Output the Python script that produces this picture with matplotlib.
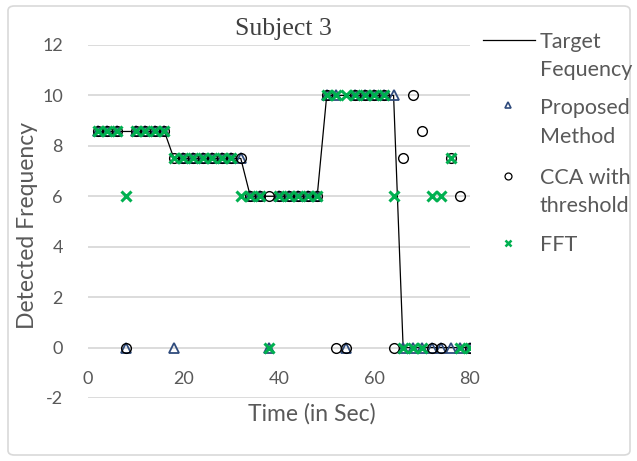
import matplotlib.pyplot as plt
from matplotlib.lines import Line2D
from matplotlib.patches import FancyBboxPatch

# Data
time = [2, 4, 6, 8, 10, 12, 14, 16,
        18, 20, 22, 24, 26, 28, 30, 32,
        34, 36, 38, 40, 42, 44, 46, 48,
        50, 52, 54, 56, 58, 60, 62, 64,
        66, 68, 70, 72, 74, 76, 78, 80]
target = [8.57, 8.57, 8.57, 8.57, 8.57, 8.57, 8.57, 8.57,
          7.5, 7.5, 7.5, 7.5, 7.5, 7.5, 7.5, 7.5,
          6, 6, 6, 6, 6, 6, 6, 6,
          10, 10, 10, 10, 10, 10, 10, 10,
          0, 0, 0, 0, 0, 0, 0, 0]
proposed = [8.57, 8.57, 8.57, 0, 8.57, 8.57, 8.57, 8.57,
            0, 7.5, 7.5, 7.5, 7.5, 7.5, 7.5, 7.5,
            6, 6, 0, 6, 6, 6, 6, 6,
            10, 10, 0, 10, 10, 10, 10, 10,
            0, 0, 0, 0, 0, 0, 0, 0]
cca = [8.57, 8.57, 8.57, 0, 8.57, 8.57, 8.57, 8.57,
       7.5, 7.5, 7.5, 7.5, 7.5, 7.5, 7.5, 7.5,
       6, 6, 6, 6, 6, 6, 6, 6,
       10, 0, 0, 10, 10, 10, 10, 0,
       7.5, 10, 8.57, 0, 0, 7.5, 6, 0]
fft = [8.57, 8.57, 8.57, 6, 8.57, 8.57, 8.57, 8.57,
       7.5, 7.5, 7.5, 7.5, 7.5, 7.5, 7.5, 6,
       6, 6, 0, 6, 6, 6, 6, 6,
       10, 10, 10, 10, 10, 10, 10, 6,
       0, 0, 0, 6, 6, 7.5, 0, 0]

x_ticks = [0, 20, 40, 60, 80]
y_ticks = [-2, 0, 2, 4, 6, 8, 10, 12]
legend_labels = [['Target', 'Fequency'], ['Proposed', 'Method'],
                 ['CCA with', 'threshold'], ['FFT']]

plt.rcParams['font.family'] = ['Lato', 'DejaVu Sans']
plt.rcParams['axes.unicode_minus'] = False
grey = '#595959'
navy = '#2F4B7C'
green = '#00B050'

W, H = 637, 461
fig = plt.figure(figsize=(W / 100, H / 100), dpi=100)
ax = fig.add_axes([0.1381, 0.1367, 0.5997, 0.7657])

ax.plot(time, target, color='black', lw=0.9, zorder=3)
ax.plot(time, proposed, ls='none', marker='^', ms=6.5, mfc='none', mec=navy,
        mew=1.3, zorder=4)
ax.plot(time, cca, ls='none', marker='o', ms=7, mfc='none', mec='black',
        mew=1.0, zorder=5)
ax.plot(time, fft, ls='none', marker='x', ms=6.5, mec=green, mew=2.2, zorder=6)

ax.set_xlim(0, 80)
ax.set_ylim(-2, 12)
ax.set_xticks(x_ticks)
ax.set_yticks(y_ticks)
ax.grid(axis='y', color='#D9D9D9', lw=1.3)
ax.set_axisbelow(True)
for s in ['top', 'right', 'left']:
    ax.spines[s].set_visible(False)
ax.spines['bottom'].set_position(('data', 0))
ax.spines['bottom'].set_visible(False)
ax.tick_params(axis='x', length=0, pad=17, labelsize=13, labelcolor=grey)
ax.tick_params(axis='y', length=0, pad=18, labelsize=13, labelcolor=grey)

ax.set_xlabel('Time (in Sec)', fontsize=16.5, color=grey)
ax.xaxis.set_label_coords(0.587, -0.015)
ax.set_ylabel('Detected Frequency', fontsize=16.5, color=grey)
ax.yaxis.set_label_coords(-0.158, 0.49)
ax.yaxis.label.set_va('center')

fig.text(283 / W, 1 - 29 / H, 'Subject 3', family='Liberation Serif',
         fontsize=18.5, color='#404040', ha='center', va='center')

# legend drawn by hand so each key sits beside the first line of its label
def fx(px):
    return px / W

def fy(py):
    return 1 - py / H

fig.add_artist(Line2D([fx(483), fx(535)], [fy(40), fy(40)], color='black',
                      lw=0.9, transform=fig.transFigure))
fig.add_artist(Line2D([fx(508)], [fy(105)], ls='none', marker='^', ms=5,
                      mfc='none', mec=navy, mew=1.2, transform=fig.transFigure))
fig.add_artist(Line2D([fx(508)], [fy(176)], ls='none', marker='o', ms=5,
                      mfc='none', mec='black', mew=0.9, transform=fig.transFigure))
fig.add_artist(Line2D([fx(508)], [fy(243)], ls='none', marker='x', ms=5,
                      mec=green, mew=1.8, transform=fig.transFigure))
first_line = [40, 107, 176, 243]
for lines, y0 in zip(legend_labels, first_line):
    for i, line in enumerate(lines):
        fig.text(fx(540), fy(y0 + 28.5 * i + 7.5), line, fontsize=15.5,
                 color=grey, ha='left', va='baseline')

border = FancyBboxPatch((8 / W, 6 / H), 622 / W, 449 / H,
                        boxstyle='round,pad=0,rounding_size=0.01',
                        transform=fig.transFigure, fill=False,
                        edgecolor='#D9D9D9', lw=1.2)
fig.patches.append(border)

fig.savefig('out.png', dpi=100)
